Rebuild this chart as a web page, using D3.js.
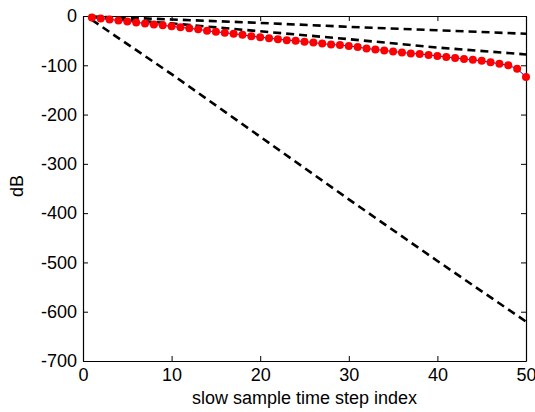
<!DOCTYPE html>
<html>
<head>
<meta charset="utf-8">
<script src="https://cdn.jsdelivr.net/npm/d3@7"></script>
<style>
  body { margin: 0; background: #fff; }
  svg text { font-family: "Liberation Sans", Arial, sans-serif; }
</style>
</head>
<body>
<svg id="chart" width="535" height="412"></svg>
<script>
// values
var redX = d3.range(1, 51);
var redY = [-3, -5, -7, -9, -11, -13, -15, -17, -19, -21,
            -23, -25, -27, -30, -32, -34, -36, -38, -41, -43,
            -45, -47, -49, -50, -52, -54, -56, -58, -59, -61,
            -63, -66, -68, -70, -72, -74, -76, -77, -79, -81,
            -83, -85, -87, -89, -91, -94, -97, -100, -107, -124];
var dashX = [1, 10, 20, 30, 40, 50];
var steepY = [-8, -118, -245, -372, -497, -620];
var midY = [-2, -15, -31, -47, -64, -78];
var topY = [-1, -7, -14, -22, -29, -36];
var xTicks = [0, 10, 20, 30, 40, 50];
var yTicks = [0, -100, -200, -300, -400, -500, -600, -700];

var svg = d3.select("#chart");
// note: can't call it "top", window.top is read-only
var pLeft = 83, pRight = 526, pTop = 16, pBottom = 361;

var x = d3.scaleLinear().domain([0, 50]).range([pLeft, pRight]);
var y = d3.scaleLinear().domain([-700, 0]).range([pBottom, pTop]);

// plain hyphen like matlab, not the unicode minus d3 uses
var fmt = function(d) { return String(d); };

var g = svg.append("g");

// ticks inside the box, all four sides
g.append("g").attr("transform", "translate(0," + pBottom + ")")
  .call(d3.axisBottom(x).tickValues(xTicks).tickFormat(fmt).tickSizeInner(-5).tickSizeOuter(0).tickPadding(7));
g.append("g").attr("transform", "translate(0," + pTop + ")")
  .call(d3.axisTop(x).tickValues(xTicks).tickSizeInner(-5).tickSizeOuter(0).tickFormat(""));
g.append("g").attr("transform", "translate(" + pLeft + ",0)")
  .call(d3.axisLeft(y).tickValues(yTicks).tickFormat(fmt).tickSizeInner(-5).tickSizeOuter(0).tickPadding(6));
g.append("g").attr("transform", "translate(" + pRight + ",0)")
  .call(d3.axisRight(y).tickValues(yTicks).tickSizeInner(-5).tickSizeOuter(0).tickFormat(""));

g.selectAll(".domain").attr("stroke", "#000").attr("stroke-width", 1.2);
g.selectAll(".tick line").attr("stroke", "#000");
g.selectAll(".tick text").attr("font-size", 18).attr("fill", "#000")
  .attr("font-family", "Liberation Sans, Arial, sans-serif");

var line = d3.line()
  .x(function(d) { return x(d[0]); })
  .y(function(d) { return y(d[1]); });

[steepY, midY, topY].forEach(function(vals) {
  svg.append("path")
    .datum(dashX.map(function(v, i) { return [v, vals[i]]; }))
    .attr("d", line)
    .attr("fill", "none")
    .attr("stroke", "#000")
    .attr("stroke-width", 2.6)
    .attr("stroke-dasharray", "8,5");
});

var redData = redX.map(function(v, i) { return [v, redY[i]]; });
svg.append("path")
  .datum(redData)
  .attr("d", line)
  .attr("fill", "none")
  .attr("stroke", "#0000ff")
  .attr("stroke-width", 1);

svg.selectAll(".dot")
  .data(redData)
  .enter().append("circle")
    .attr("class", "dot")
    .attr("cx", function(d) { return x(d[0]); })
    .attr("cy", function(d) { return y(d[1]); })
    .attr("r", 4)
    .attr("fill", "#ff0000");

svg.append("text")
  .attr("x", (pLeft + pRight) / 2)
  .attr("y", 404)
  .attr("text-anchor", "middle")
  .attr("font-size", 18)
  .text("slow sample time step index");

svg.append("text")
  .attr("transform", "translate(23,186) rotate(-90)")
  .attr("text-anchor", "middle")
  .attr("font-size", 18)
  .text("dB");
</script>
</body>
</html>
